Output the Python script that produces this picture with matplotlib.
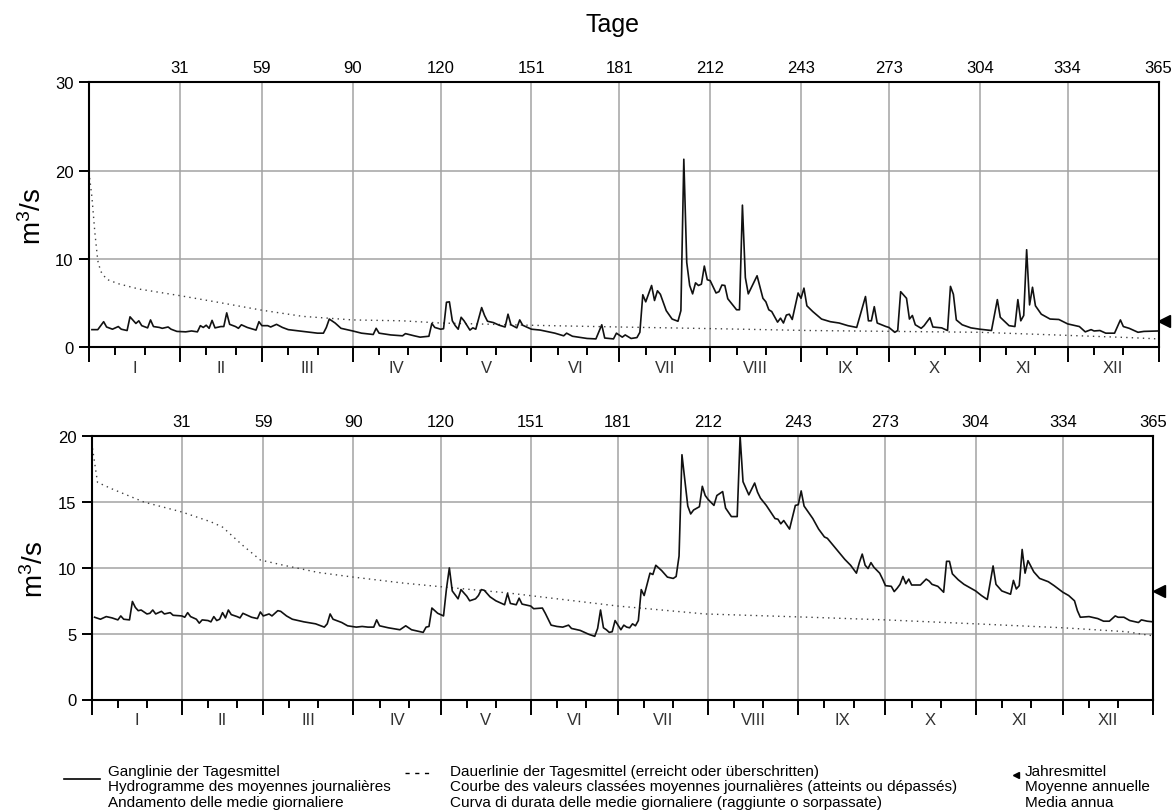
"""Ganglinie und Dauerlinie der Tagesmittel, zwei Messstationen"""

import matplotlib

matplotlib.use("Agg")
from matplotlib import pyplot as plt
from matplotlib.lines import Line2D
from matplotlib.ticker import FixedLocator

plt.rcParams["font.family"] = ["Liberation Sans", "DejaVu Sans"]
plt.rcParams["mathtext.default"] = "regular"

W, H = 1174, 812

MONTH_START = [0, 31, 59, 90, 120, 151, 181, 212, 243, 273, 304, 334, 365]
MONTHS = ["I", "II", "III", "IV", "V", "VI", "VII", "VIII", "IX", "X", "XI", "XII"]
DAY_LABELS = ["31", "59", "90", "120", "151", "181", "212", "243", "273", "304", "334", "365"]

# daily mean flow (day of year, m3/s) - upper station
top_daily = [
    (1, 2.0), (3, 2.0), (5, 2.9), (6, 2.3), (8, 2.05), (10, 2.35), (11, 2.05), (13, 1.9),
    (14, 3.45), (16, 2.7), (17, 3.0), (18, 2.45), (20, 2.2), (21, 3.1), (22, 2.35), (24, 2.25),
    (25, 2.15), (27, 2.3), (28, 2.05), (30, 1.8), (33, 1.75), (35, 1.85), (37, 1.75), (38, 2.45),
    (39, 2.25), (40, 2.5), (41, 2.15), (42, 3.05), (43, 2.2), (45, 2.35), (46, 2.35), (47, 3.9),
    (48, 2.6), (50, 2.35), (51, 2.15), (52, 2.55), (54, 2.25), (57, 1.95), (58, 2.9), (59, 2.45),
    (61, 2.45), (62, 2.3), (64, 2.6), (66, 2.25), (68, 2.0), (73, 1.8), (78, 1.6), (80, 1.6),
    (81, 2.25), (82, 3.2), (84, 2.75), (86, 2.15), (90, 1.85), (93, 1.6), (97, 1.45), (98, 2.15),
    (99, 1.6), (103, 1.4), (107, 1.3), (108, 1.55), (111, 1.3), (113, 1.15), (116, 1.25), (117, 2.7),
    (118, 2.25), (120, 2.05), (121, 2.1), (122, 5.1), (123, 5.15), (124, 3.0), (125, 2.45), (126, 2.05),
    (127, 3.4), (128, 3.0), (130, 1.95), (131, 2.2), (132, 2.05), (134, 4.5), (135, 3.6), (136, 2.95),
    (138, 2.8), (140, 2.5), (142, 2.3), (143, 3.75), (144, 2.55), (146, 2.2), (147, 3.1), (148, 2.5),
    (151, 2.05), (154, 1.95), (159, 1.6), (162, 1.3), (163, 1.6), (165, 1.25), (170, 1.0), (173, 0.95),
    (175, 2.55), (176, 1.05), (179, 0.95), (180, 1.6), (182, 1.15), (183, 1.4), (185, 1.0), (187, 1.1),
    (188, 1.7), (189, 5.95), (190, 5.15), (192, 7.0), (193, 5.3), (194, 6.4), (195, 6.0), (197, 4.15),
    (199, 3.2), (201, 2.95), (202, 4.15), (203, 21.3), (204, 9.6), (205, 7.0), (206, 6.05), (207, 7.3),
    (208, 7.0), (209, 7.15), (210, 9.2), (211, 7.65), (212, 7.55), (214, 6.15), (215, 6.3), (216, 7.05),
    (217, 7.0), (218, 5.5), (221, 4.25), (222, 4.25), (223, 16.1), (224, 7.9), (225, 6.05), (228, 8.1),
    (230, 5.55), (231, 5.15), (232, 4.25), (233, 4.05), (235, 2.85), (236, 3.3), (237, 2.75), (238, 3.65),
    (239, 3.75), (240, 3.15), (242, 6.15), (243, 5.55), (244, 6.7), (245, 4.7), (247, 4.05), (250, 3.2),
    (253, 2.9), (256, 2.75), (259, 2.45), (262, 2.25), (265, 5.75), (266, 3.0), (267, 3.0), (268, 4.6),
    (269, 2.75), (272, 2.35), (273, 2.25), (275, 1.7), (276, 1.9), (277, 6.3), (279, 5.55), (280, 3.2),
    (281, 3.6), (282, 2.55), (284, 2.15), (285, 2.45), (287, 3.35), (288, 2.3), (291, 2.2), (293, 1.9),
    (294, 6.9), (295, 6.0), (296, 3.1), (298, 2.55), (301, 2.2), (304, 2.05), (308, 1.9), (310, 5.4),
    (311, 3.4), (314, 2.45), (316, 2.35), (317, 5.4), (318, 3.0), (319, 3.6), (320, 11.05), (321, 4.8),
    (322, 6.8), (323, 4.7), (325, 3.75), (328, 3.2), (331, 3.15), (334, 2.65), (338, 2.35), (340, 1.75),
    (342, 2.0), (343, 1.85), (345, 1.9), (347, 1.6), (350, 1.6), (352, 3.1), (353, 2.35), (355, 2.15),
    (358, 1.7), (360, 1.8), (365, 1.85),
]

# duration curve (days reached or exceeded, m3/s) - upper station
top_duration = [
    (0, 19.8), (1, 17.0), (2, 13.0), (3, 9.8), (4, 8.6), (6, 7.7), (10, 7.2), (17, 6.6),
    (31, 5.85), (44, 5.1), (59, 4.2), (73, 3.5), (90, 3.1), (107, 3.0), (120, 2.75), (150, 2.5),
    (181, 2.3), (215, 2.1), (246, 1.9), (275, 1.8), (304, 1.7), (334, 1.35), (355, 1.1), (365, 0.95),
]

# daily mean flow (day of year, m3/s) - lower station
bottom_daily = [
    (1, 6.25), (3, 6.1), (5, 6.3), (7, 6.2), (9, 6.05), (10, 6.35), (11, 6.1), (13, 6.05),
    (14, 7.45), (15, 7.0), (16, 6.75), (17, 6.8), (19, 6.5), (20, 6.55), (21, 6.8), (22, 6.5),
    (24, 6.7), (25, 6.5), (27, 6.6), (28, 6.4), (31, 6.35), (32, 6.25), (33, 6.6), (34, 6.3),
    (36, 6.1), (37, 5.8), (38, 6.05), (40, 6.0), (41, 5.9), (42, 6.3), (43, 6.0), (44, 6.1),
    (45, 6.6), (46, 6.2), (47, 6.8), (48, 6.45), (50, 6.3), (51, 6.2), (52, 6.55), (54, 6.35),
    (55, 6.25), (57, 6.15), (58, 6.65), (59, 6.35), (61, 6.5), (62, 6.35), (64, 6.75), (65, 6.7),
    (67, 6.35), (69, 6.1), (73, 5.9), (77, 5.75), (80, 5.5), (81, 5.75), (82, 6.5), (83, 6.1),
    (86, 5.85), (88, 5.6), (91, 5.5), (93, 5.55), (95, 5.5), (97, 5.5), (98, 6.05), (99, 5.6),
    (102, 5.45), (106, 5.3), (108, 5.6), (110, 5.3), (114, 5.1), (115, 5.5), (116, 5.55), (117, 6.95),
    (119, 6.55), (121, 6.35), (122, 8.4), (123, 10.0), (124, 8.25), (126, 7.65), (127, 8.35), (129, 7.85),
    (130, 7.5), (132, 7.65), (133, 7.9), (134, 8.35), (135, 8.3), (137, 7.8), (139, 7.5), (142, 7.2),
    (143, 8.05), (144, 7.3), (146, 7.2), (147, 7.7), (148, 7.25), (151, 7.1), (152, 6.9), (155, 6.95),
    (156, 6.55), (158, 5.65), (160, 5.55), (162, 5.5), (164, 5.65), (165, 5.4), (168, 5.25), (171, 4.95),
    (173, 4.8), (174, 5.4), (175, 6.8), (176, 5.45), (177, 5.3), (178, 5.1), (179, 5.15), (180, 6.0),
    (181, 5.65), (182, 5.3), (183, 5.65), (184, 5.5), (185, 5.45), (186, 5.75), (187, 5.6), (188, 6.0),
    (189, 8.35), (190, 7.9), (192, 9.6), (193, 9.5), (194, 10.2), (196, 9.8), (198, 9.3), (200, 9.2),
    (201, 9.35), (202, 10.9), (203, 18.6), (205, 14.7), (206, 14.1), (207, 14.4), (209, 14.65), (210, 16.2),
    (211, 15.5), (212, 15.2), (214, 14.75), (215, 15.5), (217, 15.8), (218, 14.55), (220, 13.9), (222, 13.9),
    (223, 20.0), (224, 16.55), (226, 15.55), (228, 16.45), (229, 15.75), (230, 15.3), (232, 14.75), (235, 13.75),
    (236, 13.7), (237, 13.35), (238, 13.6), (240, 12.95), (242, 14.75), (243, 14.8), (244, 15.85), (245, 14.7),
    (248, 13.75), (250, 12.95), (252, 12.35), (253, 12.25), (256, 11.45), (259, 10.65), (261, 10.2), (263, 9.6),
    (264, 10.4), (265, 11.05), (266, 10.2), (267, 9.95), (268, 10.4), (269, 10.05), (271, 9.6), (272, 9.15),
    (273, 8.65), (275, 8.6), (276, 8.2), (277, 8.45), (278, 8.75), (279, 9.35), (280, 8.8), (281, 9.15),
    (282, 8.7), (284, 8.7), (285, 8.7), (287, 9.15), (288, 9.0), (289, 8.75), (291, 8.6), (293, 8.15),
    (294, 10.5), (295, 10.5), (296, 9.55), (298, 9.1), (300, 8.75), (304, 8.25), (306, 7.9), (308, 7.6),
    (310, 10.15), (311, 8.75), (313, 8.25), (316, 8.0), (317, 9.05), (318, 8.4), (319, 8.65), (320, 11.4),
    (321, 9.6), (322, 10.55), (324, 9.7), (326, 9.2), (329, 8.95), (331, 8.65), (334, 8.15), (336, 7.9),
    (338, 7.5), (339, 6.75), (340, 6.25), (343, 6.3), (346, 6.15), (348, 5.95), (350, 5.95), (352, 6.35),
    (353, 6.25), (355, 6.25), (357, 6.0), (360, 5.85), (361, 6.05), (363, 5.95), (365, 5.9),
]

# duration curve (days reached or exceeded, m3/s) - lower station
bottom_duration = [
    (0, 19.5), (1, 18.0), (2, 16.5), (7, 16.0), (18, 15.0), (31, 14.25), (41, 13.5), (45, 13.1),
    (52, 11.7), (58, 10.6), (66, 10.2), (78, 9.65), (90, 9.3), (107, 8.85), (121, 8.55), (143, 8.1),
    (181, 7.1), (211, 6.5), (247, 6.25), (273, 6.05), (304, 5.75), (334, 5.45), (356, 5.15), (363, 4.9),
    (365, 4.85),
]

annual_mean = [2.94, 8.22]

LEGEND_LINE = ["Ganglinie der Tagesmittel", "Hydrogramme des moyennes journalières",
               "Andamento delle medie giornaliere"]
LEGEND_DUR = ["Dauerlinie der Tagesmittel (erreicht oder überschritten)",
              "Courbe des valeurs classées moyennes journalières (atteints ou dépassés)",
              "Curva di durata delle medie giornaliere (raggiunte o sorpassate)"]
LEGEND_MEAN = ["Jahresmittel", "Moyenne annuelle", "Media annua"]


def style_axis(ax, ymax: int, ystep: int):
    """Axis frame, ticks, grid and month labels"""
    ax.set_xlim(0, 365)
    ax.set_ylim(0, ymax)
    ax.set_yticks(range(0, ymax + 1, ystep))
    ax.xaxis.set_major_locator(FixedLocator(MONTH_START))
    ax.xaxis.set_minor_locator(FixedLocator([m + d for m in MONTH_START[:-1] for d in (9, 19)]))
    ax.tick_params(axis="x", which="major", direction="out", length=10.5, width=1.4,
                   labelbottom=False, top=False)
    ax.tick_params(axis="x", which="minor", direction="out", length=5.5, width=1.4, top=False)
    ax.tick_params(axis="y", direction="out", length=7, width=1.4, labelsize=12, pad=4, right=False)
    ax.grid(True, which="major", color="#a3a3a3", linewidth=1.1)
    for s in ax.spines.values():
        s.set_linewidth(1.5)

    top = ax.secondary_xaxis("top")
    top.set_xticks([int(d) for d in DAY_LABELS], DAY_LABELS)
    top.tick_params(length=0, pad=5, labelsize=12)
    top.spines["top"].set_visible(False)

    for i, name in enumerate(MONTHS):
        mid = (MONTH_START[i] + MONTH_START[i + 1]) / 2
        ax.annotate(name, xy=(mid, 0), xycoords=("data", "axes fraction"), xytext=(0, -14.5),
                    textcoords="offset points", ha="center", va="center", fontsize=12,
                    color="#333333", annotation_clip=False)

    ax.set_ylabel("m$^3$/s", fontsize=20, labelpad=6)


def plot_panel(ax, daily, duration, mean):
    """Hydrograph, duration curve and annual mean marker"""
    d_days, d_q = zip(*daily)
    c_days, c_q = zip(*duration)
    ax.plot(c_days, c_q, color="#404040", linewidth=1.0, linestyle=(0, (1, 3)))
    ax.plot(d_days, d_q, color="#111111", linewidth=1.2)
    ax.plot([367], [mean], marker="<", markersize=8, color="black", clip_on=False)


fig = plt.figure(figsize=(W / 100, H / 100), dpi=100)
ax1 = fig.add_axes([89 / W, 1 - 348.3 / H, (1158.5 - 89) / W, (348.3 - 83.4) / H])
ax2 = fig.add_axes([91.7 / W, 1 - 700.5 / H, (1153 - 91.7) / W, (700.5 - 437.3) / H])

style_axis(ax1, 30, 10)
style_axis(ax2, 20, 5)
plot_panel(ax1, top_daily, top_duration, annual_mean[0])
plot_panel(ax2, bottom_daily, bottom_duration, annual_mean[1])

fig.text(612 / W, 1 - 25 / H, "Tage", ha="center", va="center", fontsize=18)

# legend at the foot
fig.add_artist(Line2D([64 / W, 100 / W], [1 - 780 / H] * 2, color="black", linewidth=1.2))
fig.add_artist(Line2D([405 / W, 433 / W], [1 - 774 / H] * 2, color="black", linewidth=1.0,
                      linestyle=(0, (3, 4))))
fig.add_artist(Line2D([1016 / W], [1 - 776 / H], marker="<", markersize=4, color="black"))
for x, lines in ((108, LEGEND_LINE), (450, LEGEND_DUR), (1025, LEGEND_MEAN)):
    fig.text(x / W, 1 - 765 / H, "\n".join(lines), ha="left", va="top", fontsize=11,
             linespacing=1.12)

fig.savefig("out.png", dpi=100)
